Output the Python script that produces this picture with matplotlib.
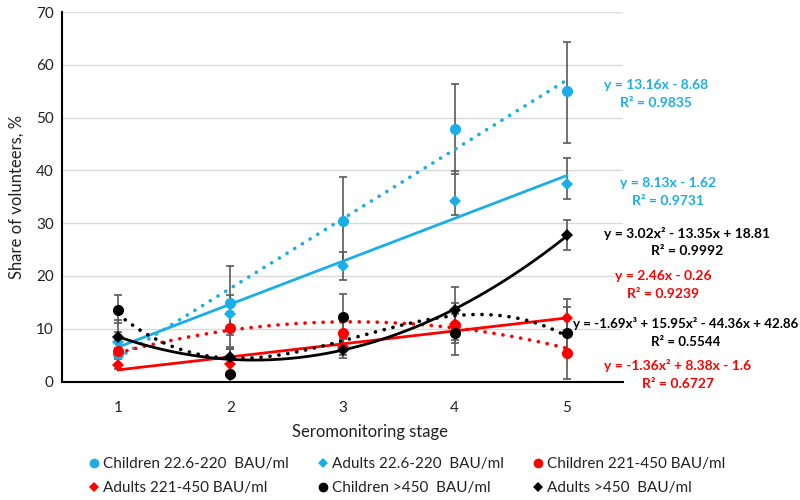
import numpy as np
import matplotlib
matplotlib.use("Agg")
import matplotlib.pyplot as plt
from matplotlib.lines import Line2D

plt.rcParams['font.family'] = ['Lato', 'DejaVu Sans']

stages = [1, 2, 3, 4, 5]

labels = ["Children 22.6-220  BAU/ml", "Adults 22.6-220  BAU/ml",
          "Children 221-450 BAU/ml", "Adults 221-450 BAU/ml",
          "Children >450  BAU/ml", "Adults >450  BAU/ml"]

c_low = [5.3, 14.9, 30.5, 47.8, 55.0]
c_low_up = [2.5, 7.0, 8.3, 8.6, 9.3]
c_low_dn = [0.8, 6.0, 8.3, 8.4, 9.9]

a_low = [7.4, 12.8, 21.9, 34.2, 37.5]
a_low_up = [2.0, 3.5, 2.7, 5.7, 4.9]
a_low_dn = [2.0, 3.0, 2.7, 2.7, 3.0]

c_mid = [5.8, 10.1, 9.2, 10.7, 5.45]
c_mid_up = [2.2, 3.0, 3.0, 4.1, 4.0]
c_mid_dn = [1.5, 3.5, 3.0, 3.5, 5.05]

a_mid = [3.1, 3.4, 6.6, 10.8, 12.0]
a_mid_up = [1.5, 2.7, 2.5, 3.0, 3.7]
a_mid_dn = [0.8, 2.0, 2.2, 3.0, 3.0]

c_high = [13.5, 1.5, 12.3, 9.2, 9.1]
c_high_up = [2.9, 2.0, 4.3, 3.5, 5.1]
c_high_dn = [2.5, 1.5, 4.0, 4.2, 4.0]

a_high = [8.4, 4.7, 6.0, 13.5, 27.7]
a_high_up = [3.2, 1.5, 2.0, 4.4, 2.9]
a_high_dn = [2.0, 1.5, 1.0, 3.0, 2.7]

# trendline coefficients (highest power first), as printed on the chart
tr_c_low = [13.16, -8.68]
tr_a_low = [8.13, -1.62]
tr_c_mid = [-1.36, 8.38, -1.6]
tr_a_mid = [2.46, -0.26]
tr_c_high = [-1.69, 15.95, -44.36, 42.86]
tr_a_high = [3.02, -13.35, 18.81]

eq_c_low = ["y = 13.16x - 8.68", "R² = 0.9835"]
eq_a_low = ["y = 8.13x - 1.62", "R² = 0.9731"]
eq_a_high = ["y = 3.02x² - 13.35x + 18.81", "R² = 0.9992"]
eq_a_mid = ["y = 2.46x - 0.26", "R² = 0.9239"]
eq_c_high = ["y = -1.69x³ + 15.95x² - 44.36x + 42.86", "R² = 0.5544"]
eq_c_mid = ["y = -1.36x² + 8.38x - 1.6", "R² = 0.6727"]

BLUE = '#1AAEE8'
RED = '#FF0000'
BLACK = '#000000'
ERR = '#595959'

fig = plt.figure(figsize=(8, 5), dpi=100)
ax = fig.add_axes([62/800, 1-381.5/500, (623-62)/800, (381.5-12)/500])

series = [
    (c_low, c_low_dn, c_low_up, BLUE, 'o', tr_c_low, 'dot'),
    (a_low, a_low_dn, a_low_up, BLUE, 'D', tr_a_low, 'solid'),
    (c_mid, c_mid_dn, c_mid_up, RED, 'o', tr_c_mid, 'dot'),
    (a_mid, a_mid_dn, a_mid_up, RED, 'D', tr_a_mid, 'solid'),
    (c_high, c_high_dn, c_high_up, BLACK, 'o', tr_c_high, 'dot'),
    (a_high, a_high_dn, a_high_up, BLACK, 'D', tr_a_high, 'solid'),
]

xs = np.linspace(1, 5, 200)
handles = []
for (vals, dn, up, col, mk, coef, ls), lab in zip(series, labels):
    ax.errorbar(stages, vals, yerr=[dn, up], fmt='none', ecolor=ERR,
                elinewidth=1.2, capsize=3, capthick=1.2, zorder=2)
    ys = np.polyval(coef, xs)
    if ls == 'dot':
        ax.plot(xs, ys, color=col, lw=2.6, linestyle=(0, (0.05, 2.45)),
                dash_capstyle='round', zorder=3)
    else:
        ax.plot(xs, ys, color=col, lw=2.0, zorder=3)
    ms = 8 if mk == 'o' else 6
    ax.plot(stages, vals, linestyle='none', marker=mk, color=col, ms=ms,
            markeredgewidth=0, zorder=4)
    handles.append(Line2D([], [], linestyle='none', marker=mk, color=col,
                          ms=7 if mk == 'o' else 5.5, markeredgewidth=0, label=lab))

ax.set_xlim(0.5, 5.5)
ax.set_ylim(0, 70)
ax.set_xticks(stages)
ax.set_yticks(range(0, 71, 10))
ax.yaxis.grid(True, color='#D9D9D9', lw=1.0)
ax.set_axisbelow(True)
for s in ['top', 'right']:
    ax.spines[s].set_visible(False)
for s in ['left', 'bottom']:
    ax.spines[s].set_linewidth(1.5)
    ax.spines[s].set_color('black')
ax.tick_params(length=0, labelsize=11, colors='#222222', pad=6)
ax.tick_params(axis='x', pad=14)
ax.set_ylabel("Share of volunteers, %", fontsize=12, color='#222222', labelpad=8)
fig.text(370/800, 1-432/500, "Seromonitoring stage", ha='center', va='center',
         fontsize=12, color='#222222')

def eq(txt, x, y, col, fs=10):
    fig.text(x/800, 1-y/500, txt[0], ha='center', va='center', fontsize=fs,
             fontweight='bold', color=col)
    fig.text(x/800, 1-(y+18)/500, txt[1], ha='center', va='center', fontsize=fs,
             fontweight='bold', color=col)

eq(eq_c_low, 656, 85, BLUE)
eq(eq_a_low, 668, 183, BLUE)
eq(eq_a_high, 687, 233, BLACK)
eq(eq_a_mid, 663, 276, RED)
eq(eq_c_high, 686, 324, BLACK, fs=9.6)
eq(eq_c_mid, 678, 366, RED)

order = [0, 3, 1, 4, 2, 5]
leg = fig.legend([handles[i] for i in order], [labels[i] for i in order],
                 ncol=3, loc='center left', bbox_to_anchor=(89/800, 1-476/500),
                 frameon=False, fontsize=11, handlelength=0.6, handletextpad=0.3,
                 columnspacing=1.95, labelspacing=0.65, borderpad=0, borderaxespad=0)
for t in leg.get_texts():
    t.set_color('#222222')

fig.savefig("out.png", dpi=100)
